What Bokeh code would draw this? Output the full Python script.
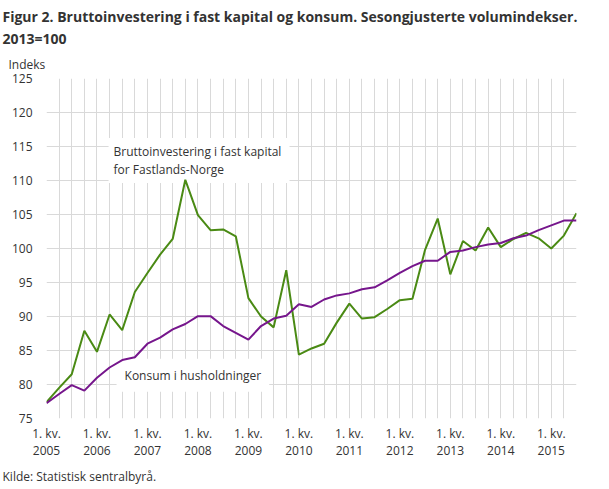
from bokeh.plotting import figure
from bokeh.models import FixedTicker, Label, Range1d, Title
from bokeh.embed import file_html
from bokeh.resources import INLINE

years = ["2005", "2006", "2007", "2008", "2009", "2010", "2011", "2012", "2013", "2014", "2015"]
tick_labels = ["1. kv.\n" + y for y in years]

investering = [77.4, 79.5, 81.5, 87.9, 84.8, 90.3, 88.0, 93.6, 96.4, 99.1, 101.4,
               110.1, 104.9, 102.7, 102.8, 101.8, 92.7, 90.0, 88.4, 96.8, 84.4,
               85.3, 86.0, 89.1, 91.9, 89.7, 89.9, 91.1, 92.4, 92.6, 99.8,
               104.4, 96.2, 101.1, 99.7, 103.1, 100.2, 101.4, 102.3, 101.5, 100.0,
               101.9, 105.2]
konsum = [77.25, 78.6, 79.9, 79.1, 81.0, 82.5, 83.6, 84.0, 86.0, 86.9, 88.1,
          88.9, 90.05, 90.05, 88.6, 87.6, 86.6, 88.6, 89.7, 90.1, 91.8,
          91.4, 92.5, 93.1, 93.4, 94.0, 94.3, 95.3, 96.4, 97.4, 98.2,
          98.2, 99.5, 99.7, 100.2, 100.6, 100.8, 101.5, 101.9, 102.7, 103.4,
          104.1, 104.1]

x = list(range(len(konsum)))
FONT = "Open Sans"
TXT = "#333333"
GREEN = "#4a8a14"
PURPLE = "#76168c"

p = figure(width=609, height=489, output_backend="svg", toolbar_location=None,
           x_range=Range1d(0, len(x) - 1), y_range=Range1d(75, 125),
           min_border_left=46, min_border_right=33, min_border_top=78, min_border_bottom=70)
p.outline_line_color = None
p.background_fill_color = "white"
p.title.text = ""

p.add_layout(Title(text="Indeks", text_font=FONT, text_font_size="12px", text_font_style="normal",
                   text_color=TXT, align="left", offset=-38, standoff=12), "above")
p.add_layout(Title(text="2013=100", text_font=FONT, text_font_size="14px", text_font_style="bold",
                   text_color=TXT, align="left", offset=-44, standoff=0), "above")
p.add_layout(Title(text="Figur 2. Bruttoinvestering i fast kapital og konsum. Sesongjusterte volumindekser.",
                   text_font=FONT, text_font_size="14px", text_font_style="bold",
                   text_color=TXT, align="left", offset=-44, standoff=1), "above")
p.add_layout(Title(text="Kilde: Statistisk sentralbyrå.", text_font=FONT, text_font_size="12px",
                   text_font_style="normal", text_color=TXT, align="left", offset=-44, standoff=9), "below")

p.xaxis.ticker = FixedTicker(ticks=[i * 4 for i in range(len(years))])
p.xaxis.major_label_overrides = {i * 4: t for i, t in enumerate(tick_labels)}
p.xgrid.ticker = FixedTicker(ticks=x)
p.yaxis.ticker = FixedTicker(ticks=list(range(75, 126, 5)))

for ax in (p.xaxis, p.yaxis):
    ax.axis_line_color = None
    ax.major_tick_line_color = None
    ax.minor_tick_line_color = None
    ax.major_tick_out = 0
    ax.major_tick_in = 0
    ax.minor_tick_out = 0
    ax.minor_tick_in = 0
    ax.major_label_text_font = FONT
    ax.major_label_text_font_size = "12px"
    ax.major_label_text_color = TXT
p.xaxis.major_label_standoff = 6
p.xaxis.major_label_text_line_height = 1.0
p.yaxis.major_label_standoff = 14

for g in (p.xgrid, p.ygrid):
    g.grid_line_color = "#d9d9d9"
    g.grid_line_width = 1

def yv(img_y):
    return 125 - (img_y - 78.3) / 6.82

def xv(img_x):
    return (img_x - 46) / 12.61

p.add_layout(Label(x=xv(108), y=yv(160.5), text="Bruttoinvestering  i fast kapital\nfor Fastlands-Norge",
                   text_font=FONT, text_font_size="12px", text_color=TXT,
                   text_baseline="middle", text_line_height=1.05,
                   background_fill_color="white", padding=5, level="underlay"))
p.add_layout(Label(x=xv(116), y=yv(376), text="Konsum i husholdninger",
                   text_font=FONT, text_font_size="12px", text_color=TXT,
                   text_baseline="middle",
                   background_fill_color="white", padding=8, level="underlay"))

p.line(x, investering, line_color=GREEN, line_width=2)
p.line(x, konsum, line_color=PURPLE, line_width=2)

open("out.html", "w").write(file_html(p, INLINE))
